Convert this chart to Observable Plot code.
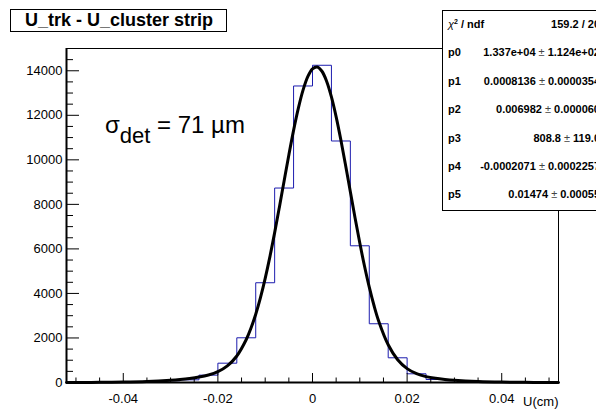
<!DOCTYPE html>
<html><head><meta charset="utf-8">
<script src="https://cdn.jsdelivr.net/npm/d3@7"></script>
<script src="https://cdn.jsdelivr.net/npm/@observablehq/plot@0.6"></script>
<style>
html,body{margin:0;padding:0;background:#fff;overflow:hidden;}
#chart svg{display:block;}
</style></head><body><div id="chart"></div>
<script>
// ---- data ----
const binStart = [-0.052,-0.048,-0.044,-0.040,-0.036,-0.032,-0.028,-0.024,-0.020,-0.016,-0.012,-0.008,-0.004,
                  0.000,0.004,0.008,0.012,0.016,0.020,0.024,0.028,0.032,0.036,0.040,0.044,0.048];
const histEnd = 0.052;
const counts = [4,7,14,26,45,78,120,330,868,2008,4480,8733,13317,
                14247,10846,6140,2638,1110,391,135,85,50,28,16,9,5];

const fitX = [-0.052,-0.050,-0.045,-0.040,-0.035,-0.030,-0.028,-0.026,-0.024,-0.022,-0.020,-0.018,-0.016,-0.014,-0.013,
  -0.012,-0.011,-0.010,-0.009,-0.008,-0.007,-0.006,-0.005,-0.004,-0.003,-0.002,-0.001,0.000,0.001,0.002,0.003,0.004,
  0.005,0.006,0.007,0.008,0.009,0.010,0.011,0.012,0.013,0.014,0.016,0.018,0.020,0.022,0.024,0.026,0.028,0.030,
  0.035,0.040,0.045,0.050,0.052];
const fitY = [1.7,2.7,8,21,50,106,139,183,244,335,486,745,1191,1930,2444,
  3068,3813,4679,5655,6730,7875,9053,10220,11324,12311,13130,13734,14088,14171,13978,13521,12825,
  11931,10887,9747,8565,7390,6262,5219,4279,3457,2755,1697,1023,623,394,264,187,137,101,
  47,20,7,2.4,1.6];

const xMajorTicks = [-0.04,-0.02,0,0.02,0.04];
const xTickLabels = ["-0.04","-0.02","0","0.02","0.04"];
const xMinorTicks = [-0.05,-0.045,-0.035,-0.03,-0.025,-0.015,-0.01,-0.005,0.005,0.01,0.015,0.025,0.03,0.035,0.045,0.05];
const yMajorTicks = [0,2000,4000,6000,8000,10000,12000,14000];
const yTickLabels = ["0","2000","4000","6000","8000","10000","12000","14000"];
const yMinorTicks = [500,1000,1500,2500,3000,3500,4500,5000,5500,6500,7000,7500,8500,9000,9500,
  10500,11000,11500,12500,13000,13500,14500];

const titleText = "U_trk - U_cluster strip";
const xLabel = "U(cm)";
const chi2Value = "159.2 / 20";
const parNames = ["p0","p1","p2","p3","p4","p5"];
const parValues = ["1.337e+04","0.0008136","0.006982","808.8","-0.0002071","0.01474"];
const parErrors = ["1.124e+02","0.0000354","0.000060","119.0","0.0002257","0.00055"];

// ---- layout ----
const W = 596, H = 411, mL = 66, mR = 38, mT = 48, mB = 29;
const frameW = W - mL - mR, frameH = H - mT - mB;
const FONT = "'Liberation Sans', Arial, Helvetica, sans-serif";

const histPts = binStart.map((x, i) => ({x, y: counts[i]}));
histPts.push({x: histEnd, y: counts[counts.length - 1]});
const fitPts = fitX.map((x, i) => ({x, y: fitY[i]}));

const plot = Plot.plot({
  width: W, height: H,
  marginLeft: mL, marginRight: mR, marginTop: mT, marginBottom: mB,
  style: {fontFamily: FONT, fontSize: "13px", background: "white", color: "black"},
  x: {domain: [-0.052, 0.052]},
  y: {domain: [0, 15000]},
  marks: [
    Plot.line(histPts, {x: "x", y: "y", curve: "step-after", stroke: "#1c1cae", strokeWidth: 1}),
    Plot.line(fitPts, {x: "x", y: "y", curve: "catmull-rom", stroke: "black", strokeWidth: 3}),
    Plot.frame({stroke: "black", strokeWidth: 1}),
    Plot.ruleY([0], {stroke: "black", strokeWidth: 2}),
    Plot.ruleX([-0.052], {stroke: "black", strokeWidth: 2}),
    Plot.tickX(xMajorTicks, {x: d => d, insetTop: frameH - 9, stroke: "black"}),
    Plot.tickX(xMinorTicks, {x: d => d, insetTop: frameH - 4.5, stroke: "black"}),
    Plot.tickY(yMajorTicks, {y: d => d, insetRight: frameW - 13, stroke: "black"}),
    Plot.tickY(yMinorTicks, {y: d => d, insetRight: frameW - 7, stroke: "black"}),
    Plot.axisX(xMajorTicks, {tickSize: 0, tickPadding: 11, label: null,
      tickFormat: d => xTickLabels[xMajorTicks.indexOf(d)]}),
    Plot.axisY(yMajorTicks, {tickSize: 0, tickPadding: 4, label: null,
      tickFormat: d => yTickLabels[yMajorTicks.indexOf(d)]}),
    Plot.text([xLabel], {text: d => d, frameAnchor: "bottom-right", dy: 23, textAnchor: "end", fontSize: 13})
  ]
});
document.getElementById("chart").appendChild(plot);

const svg = d3.select(plot);

// title box
const tg = svg.append("g");
tg.append("rect").attr("x", 10.5).attr("y", 9.5).attr("width", 216).attr("height", 22)
  .attr("fill", "white").attr("stroke", "black").attr("stroke-width", 1);
tg.append("text").attr("x", 119).attr("y", 25.5).attr("text-anchor", "middle")
  .attr("font-family", FONT).attr("font-weight", "bold").attr("font-size", 18)
  .attr("fill", "black").text(titleText);

// sigma annotation
const st = svg.append("text").attr("x", 105).attr("y", 133).attr("text-anchor", "start")
  .attr("font-family", FONT).attr("font-size", 24).attr("fill", "black");
st.append("tspan").text("σ");
st.append("tspan").attr("dy", 10).attr("font-size", 22).text("det");
st.append("tspan").attr("dy", -10).text(" = 71 µm");

// stats box
const sb = svg.append("g").attr("font-family", FONT).attr("font-size", 11).attr("fill", "black");
sb.append("rect").attr("x", 442.5).attr("y", 10.5).attr("width", 200).attr("height", 200)
  .attr("fill", "white").attr("stroke", "black").attr("stroke-width", 1);
const rowY = i => 28 + i * 28.4;
const chiLabel = sb.append("text").attr("x", 448).attr("y", rowY(0)).attr("text-anchor", "start").attr("font-weight", "bold");
chiLabel.append("tspan").attr("font-weight", "normal").attr("font-style", "italic").text("χ");
chiLabel.append("tspan").attr("dy", -4).attr("font-size", 7).text("2");
chiLabel.append("tspan").attr("dy", 4).text(" / ndf");
sb.append("text").attr("x", 600).attr("y", rowY(0)).attr("text-anchor", "end")
  .attr("font-weight", "bold").text(chi2Value);
parNames.forEach((n, i) => {
  sb.append("text").attr("x", 448).attr("y", rowY(i + 1)).attr("text-anchor", "start").attr("font-weight", "bold").text(n);
  const t = sb.append("text").attr("x", 600).attr("y", rowY(i + 1)).attr("text-anchor", "end").attr("font-weight", "bold");
  t.append("tspan").text(parValues[i]);
  t.append("tspan").attr("font-weight", "normal").attr("fill", "#444").text(" ± ");
  t.append("tspan").text(parErrors[i]);
});
</script>
</body></html>
